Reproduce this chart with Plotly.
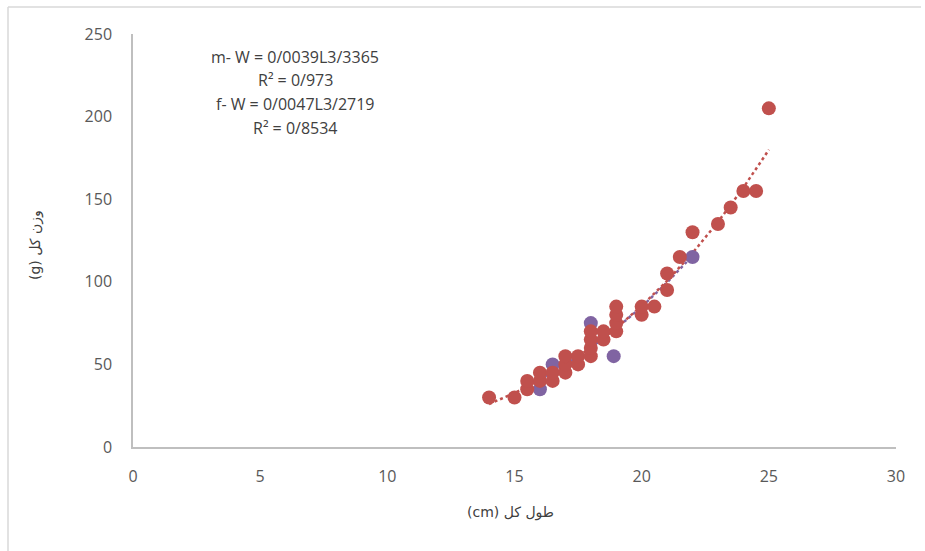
import numpy as np
import plotly.graph_objects as go

# Red series (length cm, weight g)
red_len = [14, 15, 15.5, 15.5, 16, 16, 16.5, 16.5, 17, 17, 17, 17.5, 17.5, 18, 18, 18, 18, 18.5, 18.5,
           19, 19, 19, 19, 20, 20, 20.5, 21, 21, 21.5, 22, 23, 23.5, 24, 24.5, 25]
red_wt = [30, 30, 35, 40, 40, 45, 40, 45, 45, 50, 55, 50, 55, 55, 60, 65, 70, 65, 70,
          70, 75, 80, 85, 80, 85, 85, 95, 105, 115, 130, 135, 145, 155, 155, 205]

# Purple series
pur_len = [16, 16.5, 18, 18.9, 22]
pur_wt = [35, 50, 75, 55, 115]

# Trendline equation parameters (as printed on the chart)
m_a, m_b = 0.0039, 3.3365
f_a, f_b = 0.0047, 3.2719

eq_lines = ["m- W = 0/0039L3/3365", "R² = 0/973", "f- W = 0/0047L3/2719", "R² = 0/8534"]

x_ticks = [0, 5, 10, 15, 20, 25, 30]
y_ticks = [0, 50, 100, 150, 200, 250]

RED = "#C0504D"
PURPLE = "#8064A2"

fig = go.Figure()

tx_f = np.linspace(min(pur_len), max(pur_len), 60)
fig.add_trace(go.Scatter(x=tx_f, y=f_a * tx_f ** f_b, mode="lines",
                         line=dict(color=PURPLE, width=2.5, dash="dot"), hoverinfo="skip"))
tx_m = np.linspace(min(red_len), max(red_len), 80)
fig.add_trace(go.Scatter(x=tx_m, y=m_a * tx_m ** m_b, mode="lines",
                         line=dict(color=RED, width=2.5, dash="dot"), hoverinfo="skip"))

fig.add_trace(go.Scatter(x=pur_len, y=pur_wt, mode="markers",
                         marker=dict(color=PURPLE, size=14, line=dict(width=0))))
fig.add_trace(go.Scatter(x=red_len, y=red_wt, mode="markers",
                         marker=dict(color=RED, size=14, line=dict(width=0))))

tick_font = dict(family="Open Sans, Noto Sans, sans-serif", size=16, color="#595959")

fig.update_layout(
    width=925, height=551,
    margin=dict(l=133, r=29, t=34, b=104),
    paper_bgcolor="white", plot_bgcolor="white",
    showlegend=False,
    xaxis=dict(range=[0, 30], tickvals=x_ticks, showgrid=False, zeroline=False,
               showline=True, linecolor="#BFBFBF", linewidth=1.5,
               ticks="outside", ticklen=0, tickfont=tick_font, ticklabelstandoff=14),
    yaxis=dict(range=[0, 250], tickvals=y_ticks, showgrid=False, zeroline=False,
               showline=True, linecolor="#BFBFBF", linewidth=1.5,
               ticks="outside", ticklen=0, tickfont=tick_font, ticklabelstandoff=16),
)

# equation text block
line_py = [57, 80, 104, 128]
for txt, py in zip(eq_lines, line_py):
    fig.add_annotation(text=txt, xref="paper", yref="paper",
                       x=(295 - 133) / 763, y=(447 - py) / 413,
                       showarrow=False, xanchor="center", yanchor="middle",
                       font=dict(family="Open Sans, Noto Sans, sans-serif", size=16, color="#404040"))

# axis titles
fig.add_annotation(text="(cm) طول کل", xref="paper", yref="paper",
                   x=(510 - 133) / 763, y=(447 - 512) / 413, showarrow=False,
                   xanchor="center", yanchor="middle",
                   font=dict(family="DejaVu Sans, sans-serif", size=14, color="#404040"))
fig.add_annotation(text="(g) وزن کل", xref="paper", yref="paper",
                   x=(35 - 133) / 763, y=(447 - 245) / 413, showarrow=False, textangle=-90,
                   xanchor="center", yanchor="middle",
                   font=dict(family="DejaVu Sans, sans-serif", size=14, color="#404040"))

# outer chart frame (top and left edges visible)
fig.add_shape(type="line", xref="paper", yref="paper",
              x0=(8 - 133) / 763, x1=(921 - 133) / 763, y0=(447 - 7) / 413, y1=(447 - 7) / 413,
              line=dict(color="#D9D9D9", width=1.5))
fig.add_shape(type="line", xref="paper", yref="paper",
              x0=(8 - 133) / 763, x1=(8 - 133) / 763, y0=(447 - 7) / 413, y1=(447 - 551) / 413,
              line=dict(color="#D9D9D9", width=1.5))

fig.write_html("out.html", config={"displayModeBar": False},
               post_script="document.body.style.margin='0';document.body.style.overflow='hidden';")
